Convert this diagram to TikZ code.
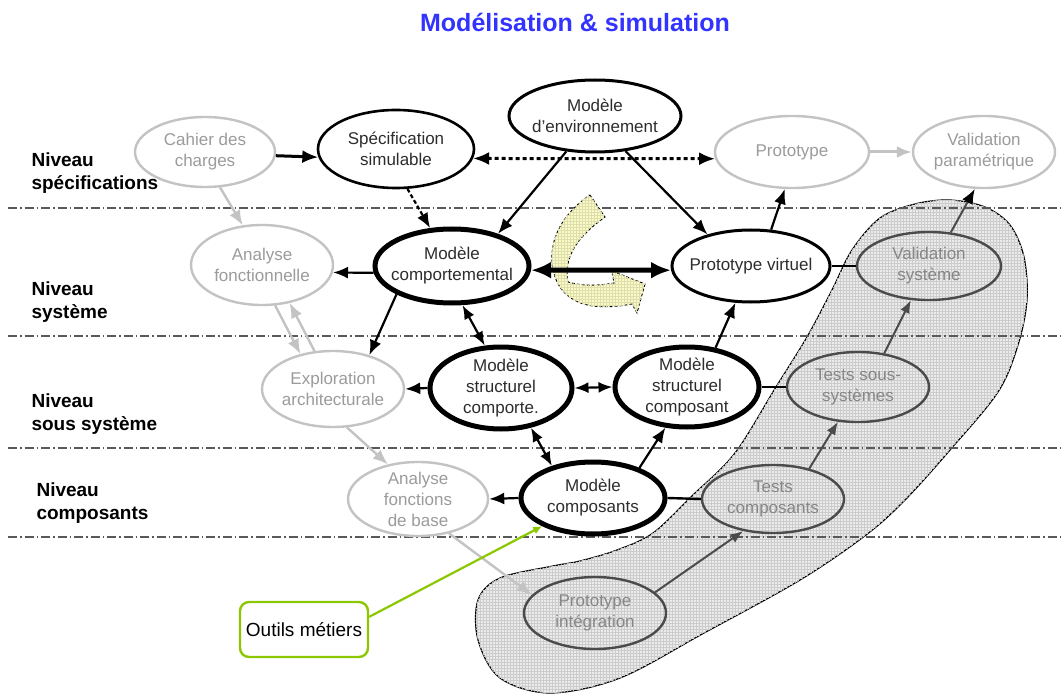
\documentclass[tikz,border=0pt]{standalone}
\usepackage{fontspec}
\setmainfont{Liberation Sans}
\usetikzlibrary{arrows.meta,shapes.geometric,patterns}

\definecolor{titleblue}{RGB}{51,51,255}
\definecolor{softgray}{RGB}{195,195,195}
\definecolor{softtext}{RGB}{155,155,155}
\definecolor{darkline}{RGB}{75,75,75}
\definecolor{blobtext}{RGB}{135,135,135}
\definecolor{toolgreen}{RGB}{140,200,0}
\definecolor{paleyellow}{RGB}{250,250,195}
\definecolor{nodetext}{RGB}{45,45,45}

\tikzset{
  ell/.style={ellipse, inner xsep=-25pt, inner ysep=-10pt, align=center,
    font=\fontsize{17}{21}\selectfont},
  greynode/.style={ell, draw=softgray, line width=2.4pt, text=softtext},
  plainnode/.style={ell, draw=black, line width=2.6pt, text=nodetext},
  boldnode/.style={ell, draw=black, line width=5pt, text=nodetext},
  testnode/.style={ell, draw=darkline, line width=2.4pt, text=blobtext},
  toolbox/.style={rectangle, rounded corners=9pt, draw=toolgreen, line width=2.4pt,
    minimum width=128pt, minimum height=55pt, font=\fontsize{19}{23}\selectfont},
  levellabel/.style={anchor=west, align=left, font=\bfseries\fontsize{19}{23}\selectfont},
  link/.style={line width=2.2pt, -{Latex[length=15pt,width=12pt]}},
  dlink/.style={line width=2.2pt, {Latex[length=14pt,width=11pt]}-{Latex[length=14pt,width=11pt]}},
  greylink/.style={line width=2.4pt, draw=softgray, -{Latex[length=15pt,width=12pt]}},
  testlink/.style={line width=2pt, draw=darkline, -{Latex[length=13pt,width=10pt]}},
  plainlink/.style={line width=2.4pt},
  divider/.style={draw=black!65, line width=1.1pt, dash pattern=on 9pt off 3pt on 1.5pt off 3pt},
}

\begin{document}
\begin{tikzpicture}[x=1pt,y=-1pt]
\fill[white] (0,0) rectangle (1063,695);
\path[use as bounding box] (0,0) rectangle (1063,695);

% title
\node[font=\bfseries\fontsize{25}{30}\selectfont, text=titleblue] (title) at (575,22) {Modélisation \& simulation};

% shaded test / integration region
\draw[black, line width=1.2pt, fill=gray!16,
      postaction={pattern=grid, pattern color=gray!40}]
  plot[smooth cycle, tension=0.55] coordinates {
    (950,200) (985,207) (1010,225) (1024,257) (1027,300) (1018,345) (998,392)
    (950,450) (905,500) (866,535) (800,580) (704,633) (620,678) (550,693)
    (500,678) (478,640) (478,600) (500,578) (553,566) (580,561) (617,550)
    (653,533) (693,495) (735,453) (776,387) (807,337) (832,290) (852,250)
    (880,218) (915,204)};

% level separators
\draw[divider] (8,208) -- (1063,208);
\draw[divider] (8,336) -- (1063,336);
\draw[divider] (8,448) -- (1063,448);
\draw[divider] (8,537) -- (1063,537);

% level labels
\node[levellabel] (lvlspec) at (28,173) {Niveau\\spécifications};
\node[levellabel] (lvlsys) at (28,302) {Niveau\\système};
\node[levellabel] (lvlsub) at (28,414) {Niveau\\sous système};
\node[levellabel] (lvlcomp) at (33,503) {Niveau\\composants};

% iteration arrow between behaviour model and virtual prototype
\draw[fill=paleyellow, draw=black, line width=0.9pt, dash pattern=on 3pt off 2pt,
      postaction={pattern=grid, pattern color=yellow!40!gray!45}]
  (590,195) -- (605,217)
  .. controls (580,235) and (563,255) .. (568,282)
  .. controls (585,287) and (603,285) .. (614,283)
  -- (612,271) -- (645,284) -- (637,313) -- (632,304)
  .. controls (600,310) and (570,308) .. (557,282)
  .. controls (545,255) and (553,220) .. (590,195) -- cycle;

% nodes
\node[greynode, minimum width=140pt, minimum height=70pt] (cahier) at (205,152) {Cahier des\\charges};
\node[plainnode, minimum width=156pt, minimum height=78pt] (spec) at (396,149) {Spécification\\simulable};
\node[plainnode, line width=3pt, minimum width=172pt, minimum height=72pt] (env) at (595,116) {Modèle\\d’environnement};
\node[greynode, minimum width=154pt, minimum height=72pt] (proto) at (792,152) {Prototype};
\node[greynode, minimum width=142pt, minimum height=72pt] (valp) at (984,152) {Validation\\paramétrique};

\node[greynode, minimum width=142pt, minimum height=80pt] (anaf) at (262,265) {Analyse\\fonctionnelle};
\node[boldnode, minimum width=154pt, minimum height=74pt] (comp) at (452,266) {Modèle\\comportemental};
\node[plainnode, line width=3pt, minimum width=158pt, minimum height=72pt] (pvirt) at (751,266) {Prototype virtuel};
\node[testnode, minimum width=144pt, minimum height=68pt] (valsys) at (929,266) {Validation\\système};

\node[greynode, minimum width=142pt, minimum height=76pt] (explo) at (333,389) {Exploration\\architecturale};
\node[boldnode, minimum width=142pt, minimum height=82pt] (msc) at (501,388) {Modèle\\structurel\\comporte.};
\node[boldnode, minimum width=144pt, minimum height=80pt] (mscp) at (687,387) {Modèle\\structurel\\composant};
\node[testnode, minimum width=142pt, minimum height=70pt] (tss) at (858,387) {Tests sous-\\systèmes};

\node[greynode, minimum width=140pt, minimum height=74pt] (afb) at (418,499) {Analyse\\fonctions\\de base};
\node[boldnode, minimum width=144pt, minimum height=72pt] (mcomp) at (593,498) {Modèle\\composants};
\node[testnode, minimum width=142pt, minimum height=68pt] (tcomp) at (773,499) {Tests\\composants};

\node[testnode, minimum width=142pt, minimum height=72pt] (pint) at (595,613) {Prototype\\intégration};
\node[toolbox] (outils) at (304,629.5) {Outils métiers};

% specification level
\draw[line width=3pt, -{Latex[length=16pt,width=13pt]}] (cahier.-3) -- (spec.186);
\draw[line width=3pt, dash pattern=on 4pt off 3pt,
      {Latex[length=16pt,width=13pt]}-{Latex[length=16pt,width=13pt]}] (spec.-7) -- (proto.185);
\draw[greylink, line width=3pt] (proto.east) -- (valp.west);
\draw[link] (env.231) -- (comp.35);
\draw[link] (env.-49) -- (pvirt.144);
\draw[link, dash pattern=on 4pt off 2.5pt] (spec.-74) -- (comp.120);
\draw[greylink] (cahier.-67) -- (anaf.116);

% system level
\draw[link] (comp.185) -- (anaf.-6);
\draw[line width=5pt, {Latex[length=20pt,width=17pt]}-{Latex[length=20pt,width=17pt]}] (comp.-3) -- (pvirt.183);
\draw[link] (pvirt.61) -- (proto.-101);
\draw[line width=2pt, draw=darkline, -{Latex[length=15pt,width=12pt,color=black]}] (valsys.57) -- (valp.-104);
\draw[plainlink] (pvirt.east) -- (valsys.west);

% subsystem level
\draw[link] (comp.207) -- (explo.43);
\draw[dlink] (comp.-75) -- (msc.111);
\draw[greylink] (anaf.-72) -- (explo.133);
\draw[greylink] (explo.116) -- (anaf.-54);
\draw[link] (msc.west) -- (explo.east);
\draw[dlink] (msc.east) -- (mscp.west);
\draw[link] (mscp.54) -- (pvirt.-113);
\draw[plainlink] (mscp.east) -- (tss.west);
\draw[testlink] (tss.52) -- (valsys.-118);

% component level
\draw[dlink] (msc.-53) -- (mcomp.142);
\draw[link] (mcomp.33) -- (mscp.242);
\draw[greylink] (explo.-70) -- (afb.131);
\draw[link] (mcomp.west) -- (afb.east);
\draw[plainlink] (mcomp.east) -- (tcomp.west);
\draw[testlink] (tcomp.40) -- (tss.-120);

% integration
\draw[greylink] (afb.-48) -- (pint.164);
\draw[testlink] (pint.19) -- (tcomp.227);
\draw[line width=2.2pt, draw=toolgreen, -{Latex[length=9pt,width=8pt]}] (outils.11) -- (mcomp.209);
\end{tikzpicture}
\end{document}
